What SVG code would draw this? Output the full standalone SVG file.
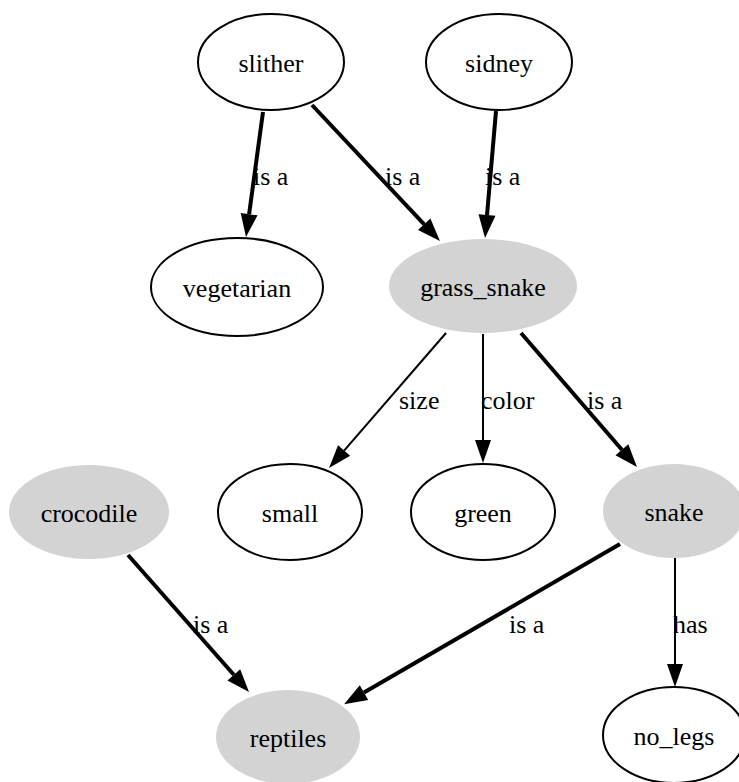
<svg xmlns="http://www.w3.org/2000/svg" width="739" height="782" viewBox="0 0 739 782">
<style>
text{font-family:"Liberation Serif","Times New Roman",serif;font-size:26px;fill:#000}
.n text{text-anchor:middle}
.w{fill:#fff;stroke:#000;stroke-width:2}
.g{fill:#d3d3d3;stroke:none}
.e{fill:none;stroke:#000}
.b{stroke-width:4;marker-end:url(#ab)}
.t{stroke-width:2;marker-end:url(#at)}
</style>
<defs>
<marker id="ab" markerUnits="userSpaceOnUse" markerWidth="30" markerHeight="24" refX="0" refY="0" viewBox="0 -12 30 24" orient="auto" overflow="visible"><path d="M0,-8.5 L23,0 L0,8.5 Z" fill="#000"/></marker>
<marker id="at" markerUnits="userSpaceOnUse" markerWidth="30" markerHeight="24" refX="0" refY="0" viewBox="0 -12 30 24" orient="auto" overflow="visible"><path d="M0,-8 L23,0 L0,8 Z" fill="#000"/></marker>
</defs>
<rect width="739" height="782" fill="#fff"/>
<g id="connectors">
<line class="e b" x1="263" y1="112" x2="249.1" y2="214.2"/>
<text x="253" y="185">is a</text>
<line class="e b" x1="312" y1="105" x2="424.2" y2="224.3"/>
<text x="385" y="185">is a</text>
<line class="e b" x1="496" y1="111" x2="487" y2="215.1"/>
<text x="485" y="185">is a</text>
<line class="e t" x1="446" y1="333" x2="344.1" y2="450.6"/>
<text x="399" y="409">size</text>
<line class="e t" x1="483" y1="334" x2="483" y2="440"/>
<text x="481" y="409">color</text>
<line class="e b" x1="521" y1="333" x2="621.9" y2="449.7"/>
<text x="587" y="409">is a</text>
<line class="e b" x1="128" y1="555" x2="233.8" y2="674.8"/>
<text x="193" y="633">is a</text>
<line class="e b" x1="620" y1="544" x2="364" y2="692.6"/>
<text x="509" y="633">is a</text>
<line class="e t" x1="675" y1="558" x2="675" y2="664"/>
<text x="673" y="633">has</text>
</g>
<g id="slither" class="n"><ellipse class="w" cx="271" cy="62" rx="73" ry="48"/><text x="271" y="72">slither</text></g>
<g id="sidney" class="n"><ellipse class="w" cx="499" cy="62" rx="73" ry="48"/><text x="499" y="72">sidney</text></g>
<g id="vegetarian" class="n"><ellipse class="w" cx="237" cy="287" rx="86" ry="49"/><text x="237" y="297">vegetarian</text></g>
<g id="grass_snake" class="n"><ellipse class="g" cx="483" cy="286" rx="94" ry="47"/><text x="483" y="296">grass_snake</text></g>
<g id="crocodile" class="n"><ellipse class="g" cx="89" cy="512" rx="80" ry="47"/><text x="89" y="522">crocodile</text></g>
<g id="small" class="n"><ellipse class="w" cx="290" cy="512" rx="72" ry="48"/><text x="290" y="522">small</text></g>
<g id="green" class="n"><ellipse class="w" cx="483" cy="512" rx="72" ry="48"/><text x="483" y="522">green</text></g>
<g id="snake" class="n"><ellipse class="g" cx="674" cy="511" rx="71" ry="47"/><text x="674" y="521">snake</text></g>
<g id="reptiles" class="n"><ellipse class="g" cx="288" cy="737" rx="72" ry="47"/><text x="288" y="747">reptiles</text></g>
<g id="no_legs" class="n"><ellipse class="w" cx="674" cy="735" rx="71" ry="48"/><text x="674" y="745">no_legs</text></g>
</svg>
